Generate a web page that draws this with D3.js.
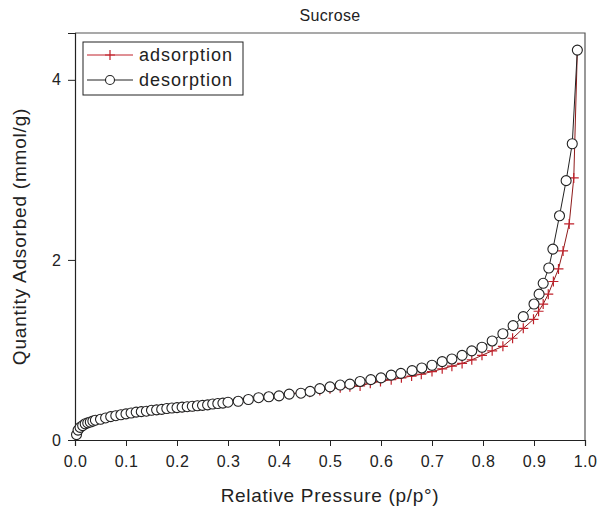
<!DOCTYPE html>
<html>
<head>
<meta charset="utf-8">
<script src="https://cdn.jsdelivr.net/npm/d3@7"></script>
<style>
  body { margin: 0; background: #fff; }
  text { font-family: "Liberation Sans", Arial, sans-serif; fill: #222; }
</style>
</head>
<body>
<script>
// low-pressure points, shared by both branches
const pLow = [0.003, 0.006, 0.01, 0.015, 0.02, 0.025, 0.03, 0.035, 0.04, 0.05, 0.06, 0.07, 0.08, 0.09, 0.10,
  0.11, 0.12, 0.13, 0.14, 0.15, 0.16, 0.17, 0.18, 0.19, 0.20, 0.21, 0.22, 0.23, 0.24, 0.25, 0.26, 0.27, 0.28, 0.29, 0.30]
const qLow = [0.06, 0.11, 0.14, 0.16, 0.18, 0.19, 0.20, 0.21, 0.22, 0.23, 0.245, 0.26, 0.27, 0.28, 0.29,
  0.30, 0.31, 0.315, 0.32, 0.33, 0.335, 0.34, 0.35, 0.355, 0.36, 0.365, 0.37, 0.375, 0.38, 0.385, 0.39, 0.40, 0.405, 0.41, 0.42]

const pAds = [0.32, 0.34, 0.36, 0.38, 0.40, 0.42, 0.44, 0.46, 0.48, 0.50, 0.52, 0.539, 0.559, 0.579, 0.599, 0.62, 0.64, 0.66, 0.679,
  0.70, 0.72, 0.739, 0.759, 0.778, 0.798, 0.818, 0.839, 0.858, 0.879, 0.899, 0.909, 0.918, 0.928, 0.938, 0.948, 0.957, 0.969, 0.978, 0.985]
const qAds = [0.43, 0.45, 0.47, 0.48, 0.49, 0.51, 0.52, 0.53, 0.55, 0.57, 0.58, 0.59, 0.60, 0.63, 0.65, 0.67, 0.69, 0.71, 0.73,
  0.76, 0.79, 0.82, 0.85, 0.89, 0.94, 0.99, 1.04, 1.13, 1.24, 1.34, 1.43, 1.51, 1.62, 1.76, 1.90, 2.10, 2.40, 2.91, 4.33]

const pDes = [0.32, 0.34, 0.36, 0.38, 0.40, 0.42, 0.443, 0.461, 0.48, 0.50, 0.52, 0.539, 0.559, 0.58, 0.60, 0.62, 0.639, 0.661, 0.68,
  0.70, 0.72, 0.739, 0.759, 0.778, 0.798, 0.818, 0.839, 0.859, 0.879, 0.90, 0.91, 0.918, 0.929, 0.937, 0.95, 0.963, 0.975, 0.985]
const qDes = [0.43, 0.45, 0.47, 0.48, 0.49, 0.51, 0.52, 0.54, 0.57, 0.59, 0.61, 0.62, 0.65, 0.67, 0.69, 0.72, 0.74, 0.77, 0.80,
  0.83, 0.87, 0.90, 0.94, 0.99, 1.03, 1.10, 1.18, 1.27, 1.37, 1.51, 1.62, 1.74, 1.91, 2.12, 2.49, 2.88, 3.29, 4.33]

const xTicks = [0, 0.1, 0.2, 0.3, 0.4, 0.5, 0.6, 0.7, 0.8, 0.9, 1.0]
const yTicks = [0, 2, 4]

const [width, height] = [597, 514]
const margin = {top: 33, right: 12, bottom: 72, left: 75}

const ads = pLow.concat(pAds).map((p, i) => ({p: p, q: qLow.concat(qAds)[i]}))
const des = pLow.concat(pDes).map((p, i) => ({p: p, q: qLow.concat(qDes)[i]}))

const x = d3.scaleLinear().domain([0, 1]).range([margin.left, width - margin.right])
const y = d3.scaleLinear().domain([0, 4.52]).range([height - margin.bottom - 2, margin.top])

const svg = d3.select('body').append('svg')
    .attr('width', width)
    .attr('height', height)

const x0 = y(0)

// frame top/right
svg.append('path')
    .attr('d', `M${x(0)},${margin.top}H${x(1)}V${x0}`)
    .attr('fill', 'none')
    .attr('stroke', '#555')
    .attr('stroke-width', 1.2)

// x axis: major + minor ticks
const xAxis = svg.append('g').attr('transform', `translate(0,${x0})`)
xAxis.call(d3.axisBottom(x).tickValues(d3.range(0, 1.0001, 0.02)).tickSize(3).tickFormat(''))
xAxis.call(d3.axisBottom(x).tickValues(xTicks).tickSize(6).tickFormat(d3.format('.1f')).tickPadding(10))
xAxis.selectAll('.domain').attr('stroke', '#222').attr('stroke-width', 1.2)
xAxis.selectAll('line').attr('stroke', '#222')
xAxis.selectAll('text').style('font-size', '16px').style('letter-spacing', '0.5px').attr('fill', '#333')

const yAxis = svg.append('g').attr('transform', `translate(${x(0)},0)`)
yAxis.call(d3.axisLeft(y).tickValues(d3.range(0, 4.51, 0.5)).tickSize(4).tickFormat(''))
yAxis.call(d3.axisLeft(y).tickValues(yTicks).tickSize(7).tickFormat(d3.format('d')).tickPadding(7))
yAxis.selectAll('.domain').attr('stroke', '#222').attr('stroke-width', 1.2)
yAxis.selectAll('line').attr('stroke', '#222')
yAxis.selectAll('text').style('font-size', '16px').attr('fill', '#333')

// titles
svg.append('text').text('Sucrose')
    .attr('x', (x(0) + x(1)) / 2).attr('y', 21)
    .attr('text-anchor', 'middle').style('font-size', '16px').style('letter-spacing', '0.3px')
svg.append('text').text('Relative Pressure (p/p°)')
    .attr('x', (x(0) + x(1)) / 2).attr('y', 502)
    .attr('text-anchor', 'middle').style('font-size', '19px').style('letter-spacing', '0.7px')
svg.append('text').text('Quantity Adsorbed (mmol/g)')
    .attr('transform', `translate(26,${(margin.top + x0) / 2}) rotate(-90)`)
    .attr('text-anchor', 'middle').style('font-size', '19px').style('letter-spacing', '0.8px')

const line = d3.line().x(d => x(d.p)).y(d => y(d.q))

// adsorption (red crosses)
svg.append('path').datum(ads)
    .attr('d', line).attr('fill', 'none')
    .attr('stroke', '#8e1a1a').attr('stroke-width', 1)
svg.append('g').selectAll('path')
    .data(ads).enter()
    .append('path')
        .attr('d', d => `M${x(d.p) - 5},${y(d.q)}h10M${x(d.p)},${y(d.q) - 5}v10`)
        .attr('stroke', '#c0202a').attr('stroke-width', 1.2)

// desorption (open circles)
svg.append('path').datum(des)
    .attr('d', line).attr('fill', 'none')
    .attr('stroke', '#222').attr('stroke-width', 1)
svg.append('g').selectAll('circle')
    .data(des).enter()
    .append('circle')
        .attr('cx', d => x(d.p))
        .attr('cy', d => y(d.q))
        .attr('r', 5)
        .attr('fill', '#fff')
        .attr('stroke', '#222')
        .attr('stroke-width', 1.1)

// legend
const lg = svg.append('g')
lg.append('rect')
    .attr('x', 83).attr('y', 42).attr('width', 160).attr('height', 53)
    .attr('fill', '#fff').attr('stroke', '#222').attr('stroke-width', 1)
lg.append('line').attr('x1', 87).attr('x2', 133).attr('y1', 55).attr('y2', 55)
    .attr('stroke', '#c0202a').attr('stroke-width', 1)
lg.append('path').attr('d', 'M105,55h10M110,50v10')
    .attr('stroke', '#c0202a').attr('stroke-width', 1.2)
lg.append('text').text('adsorption').attr('x', 139).attr('y', 61)
    .style('font-size', '18px').style('letter-spacing', '1px')
lg.append('line').attr('x1', 87).attr('x2', 133).attr('y1', 80).attr('y2', 80)
    .attr('stroke', '#222').attr('stroke-width', 1)
lg.append('circle').attr('cx', 110).attr('cy', 80).attr('r', 4.5)
    .attr('fill', '#fff').attr('stroke', '#222').attr('stroke-width', 1.1)
lg.append('text').text('desorption').attr('x', 139).attr('y', 86)
    .style('font-size', '18px').style('letter-spacing', '1px')
</script>
</body>
</html>
